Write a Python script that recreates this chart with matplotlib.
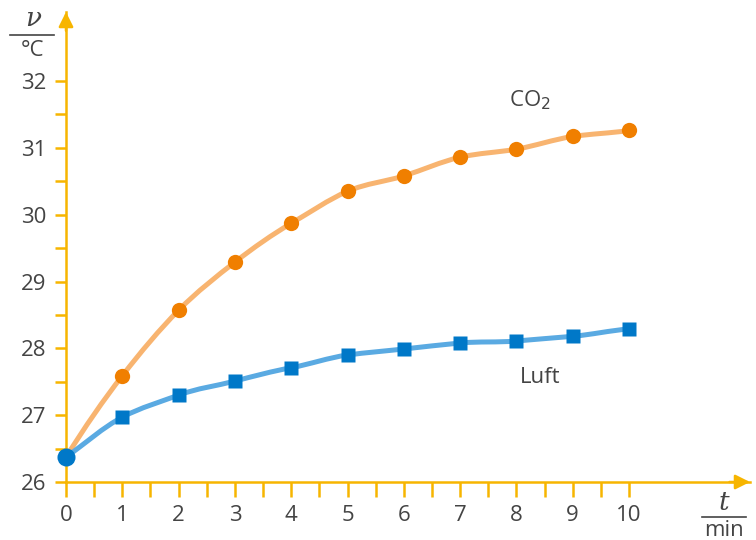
import numpy as np
import matplotlib
matplotlib.use("Agg")
import matplotlib.pyplot as plt
from matplotlib.path import Path
from matplotlib.patches import PathPatch

plt.rcParams['font.family'] = ['Open Sans', 'DejaVu Sans']

t_min = [0, 1, 2, 3, 4, 5, 6, 7, 8, 9, 10]
co2 = [26.37, 27.59, 28.57, 29.29, 29.87, 30.35, 30.58, 30.86, 30.98, 31.17, 31.26]
luft = [26.37, 26.97, 27.30, 27.51, 27.71, 27.90, 27.99, 28.08, 28.11, 28.18, 28.29]
xticks = list(range(0, 11))
yticks = [26, 27, 28, 29, 30, 31, 32]

AX = '#F7B500'
TXT = '#444444'

PXX = 56.3
PXY = 66.83
fig = plt.figure(figsize=(7.56, 5.4), dpi=100)
ax = fig.add_axes([66/756, 1-482/540, (750-66)/756, 470/540])
ax.set_xlim(0, (750-66)/PXX)
ax.set_ylim(26, 26 + 470/PXY)


def smooth_path(xs, ys):
    xs = np.asarray(xs, float); ys = np.asarray(ys, float)
    n = len(xs)
    # smooth tangents from a low-order least-squares fit of the points
    coef = np.polyfit(xs, ys, 4)
    d = np.polyval(np.polyder(coef), xs)
    verts = [(xs[0], ys[0])]
    codes = [Path.MOVETO]
    for i in range(n - 1):
        h = xs[i+1] - xs[i]
        c1 = (xs[i] + h/3, ys[i] + d[i]*h/3)
        c2 = (xs[i+1] - h/3, ys[i+1] - d[i+1]*h/3)
        verts += [c1, c2, (xs[i+1], ys[i+1])]
        codes += [Path.CURVE4] * 3
    return Path(verts, codes)


for ys, lc in [(co2, '#F8B470'), (luft, '#5AAAE2')]:
    ax.add_patch(PathPatch(smooth_path(t_min, ys), facecolor='none', edgecolor=lc,
                           lw=3.6, capstyle='round', zorder=3))

ax.plot(t_min[1:], co2[1:], 'o', color='#F07F00', ms=11, zorder=4, mec='none')
ax.plot(t_min[1:], luft[1:], 's', color='#0078C8', ms=9.5, zorder=4, mec='none')
ax.plot(t_min[0], co2[0], 'o', color='#0078C8', ms=13, zorder=5, mec='none', clip_on=False)

for s in ['top', 'right']:
    ax.spines[s].set_visible(False)
for s in ['left', 'bottom']:
    ax.spines[s].set_color(AX)
    ax.spines[s].set_linewidth(1.8)
    ax.spines[s].set_zorder(2)

ax.set_xticks(xticks)
ax.set_xticks(np.arange(0.5, 10.01, 1), minor=True)
ax.set_yticks(yticks)
ax.set_yticks(np.arange(26.5, 32.01, 1), minor=True)
ax.tick_params(axis='x', which='both', direction='out', length=10.5, width=1.8, color=AX,
               labelsize=16, labelcolor=TXT, pad=6)
ax.tick_params(axis='y', which='both', direction='out', length=8, width=1.8, color=AX,
               labelsize=16, labelcolor=TXT, pad=6)

# arrows
ax.annotate('', xy=(1.0, 0), xycoords='axes fraction', xytext=(0.97, 0),
            arrowprops=dict(arrowstyle='-|>', color=AX, lw=1.8, mutation_scale=22,
                            shrinkA=0, shrinkB=0))
ax.annotate('', xy=(0, 1.0), xycoords='axes fraction', xytext=(0, 0.96),
            arrowprops=dict(arrowstyle='-|>', color=AX, lw=1.8, mutation_scale=22,
                            shrinkA=0, shrinkB=0))

ax.text(8.24, 31.72, 'CO$_2$', fontsize=16, color=TXT, ha='center', va='center')
ax.text(8.43, 27.57, 'Luft', fontsize=16, color=TXT, ha='center', va='center')

# axis unit labels
fig.text(33/756, 1-19/540, 'ν', fontsize=19, color=TXT, ha='center', va='center',
         family='DejaVu Serif', style='italic')
fig.add_artist(plt.Line2D([10/756, 54/756], [1-35/540, 1-35/540], color=TXT, lw=1.2))
fig.text(33/756, 1-50/540, '°C', fontsize=16, color=TXT, ha='center', va='center')

fig.text(724/756, 1-502/540, 't', fontsize=19, color=TXT, ha='center', va='center',
         family='DejaVu Serif', style='italic')
fig.add_artist(plt.Line2D([702/756, 746/756], [1-517/540, 1-517/540], color=TXT, lw=1.2))
fig.text(724/756, 1-531/540, 'min', fontsize=16, color=TXT, ha='center', va='center')

fig.savefig('out.png', dpi=100)
